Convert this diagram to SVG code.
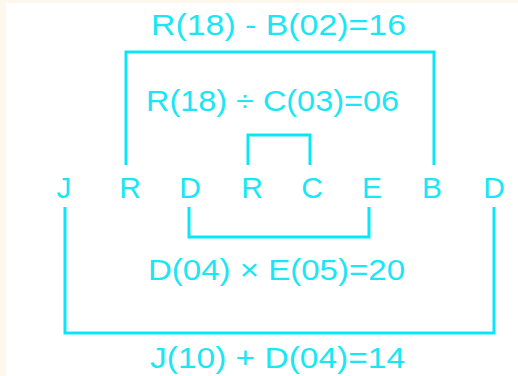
<svg xmlns="http://www.w3.org/2000/svg" width="518" height="376" viewBox="0 0 518 376">
  <style>
    .lbl { font-family: "Liberation Sans", Arial, sans-serif; font-size: 29px; fill: #1ae6f5; }
    .letter { text-anchor: middle; font-size: 30px; }
    .eq { text-anchor: start; }
    .wire { fill: none; stroke: #0ae6f6; stroke-width: 3; stroke-linejoin: miter; stroke-linecap: butt; }
  </style>
  <!-- page background with a thin cream margin on the left and top -->
  <rect x="0" y="0" width="518" height="376" fill="#fef7eb"/>
  <rect x="6" y="3" width="512" height="373" fill="#ffffff"/>

  <!-- connectors -->
  <g id="connectors">
    <path class="wire" d="M126,165 V52 H434 V165"/>
    <path class="wire" d="M248,165 V135 H310 V165"/>
    <path class="wire" d="M189,207 V237 H369 V207"/>
    <path class="wire" d="M65,207 V333 H494 V207"/>
  </g>

  <!-- letter nodes -->
  <g id="node-J1"><text class="lbl letter" x="64" y="198">J</text></g>
  <g id="node-R1"><text class="lbl letter" x="130" y="198">R</text></g>
  <g id="node-D1"><text class="lbl letter" x="190" y="198">D</text></g>
  <g id="node-R2"><text class="lbl letter" x="252" y="198">R</text></g>
  <g id="node-C"><text class="lbl letter" x="312" y="198">C</text></g>
  <g id="node-E"><text class="lbl letter" x="372" y="198">E</text></g>
  <g id="node-B"><text class="lbl letter" x="432" y="198">B</text></g>
  <g id="node-D2"><text class="lbl letter" x="494" y="198">D</text></g>

  <!-- equation labels -->
  <g id="label-RB"><text class="lbl eq" x="151" y="35" textLength="255" lengthAdjust="spacingAndGlyphs">R(18) - B(02)=16</text></g>
  <g id="label-RC"><text class="lbl eq" x="146" y="111" textLength="253" lengthAdjust="spacingAndGlyphs">R(18) ÷ C(03)=06</text></g>
  <g id="label-DE"><text class="lbl eq" x="148" y="280" textLength="257" lengthAdjust="spacingAndGlyphs">D(04) × E(05)=20</text></g>
  <g id="label-JD"><text class="lbl eq" x="150" y="368" textLength="255" lengthAdjust="spacingAndGlyphs">J(10) + D(04)=14</text></g>
</svg>
